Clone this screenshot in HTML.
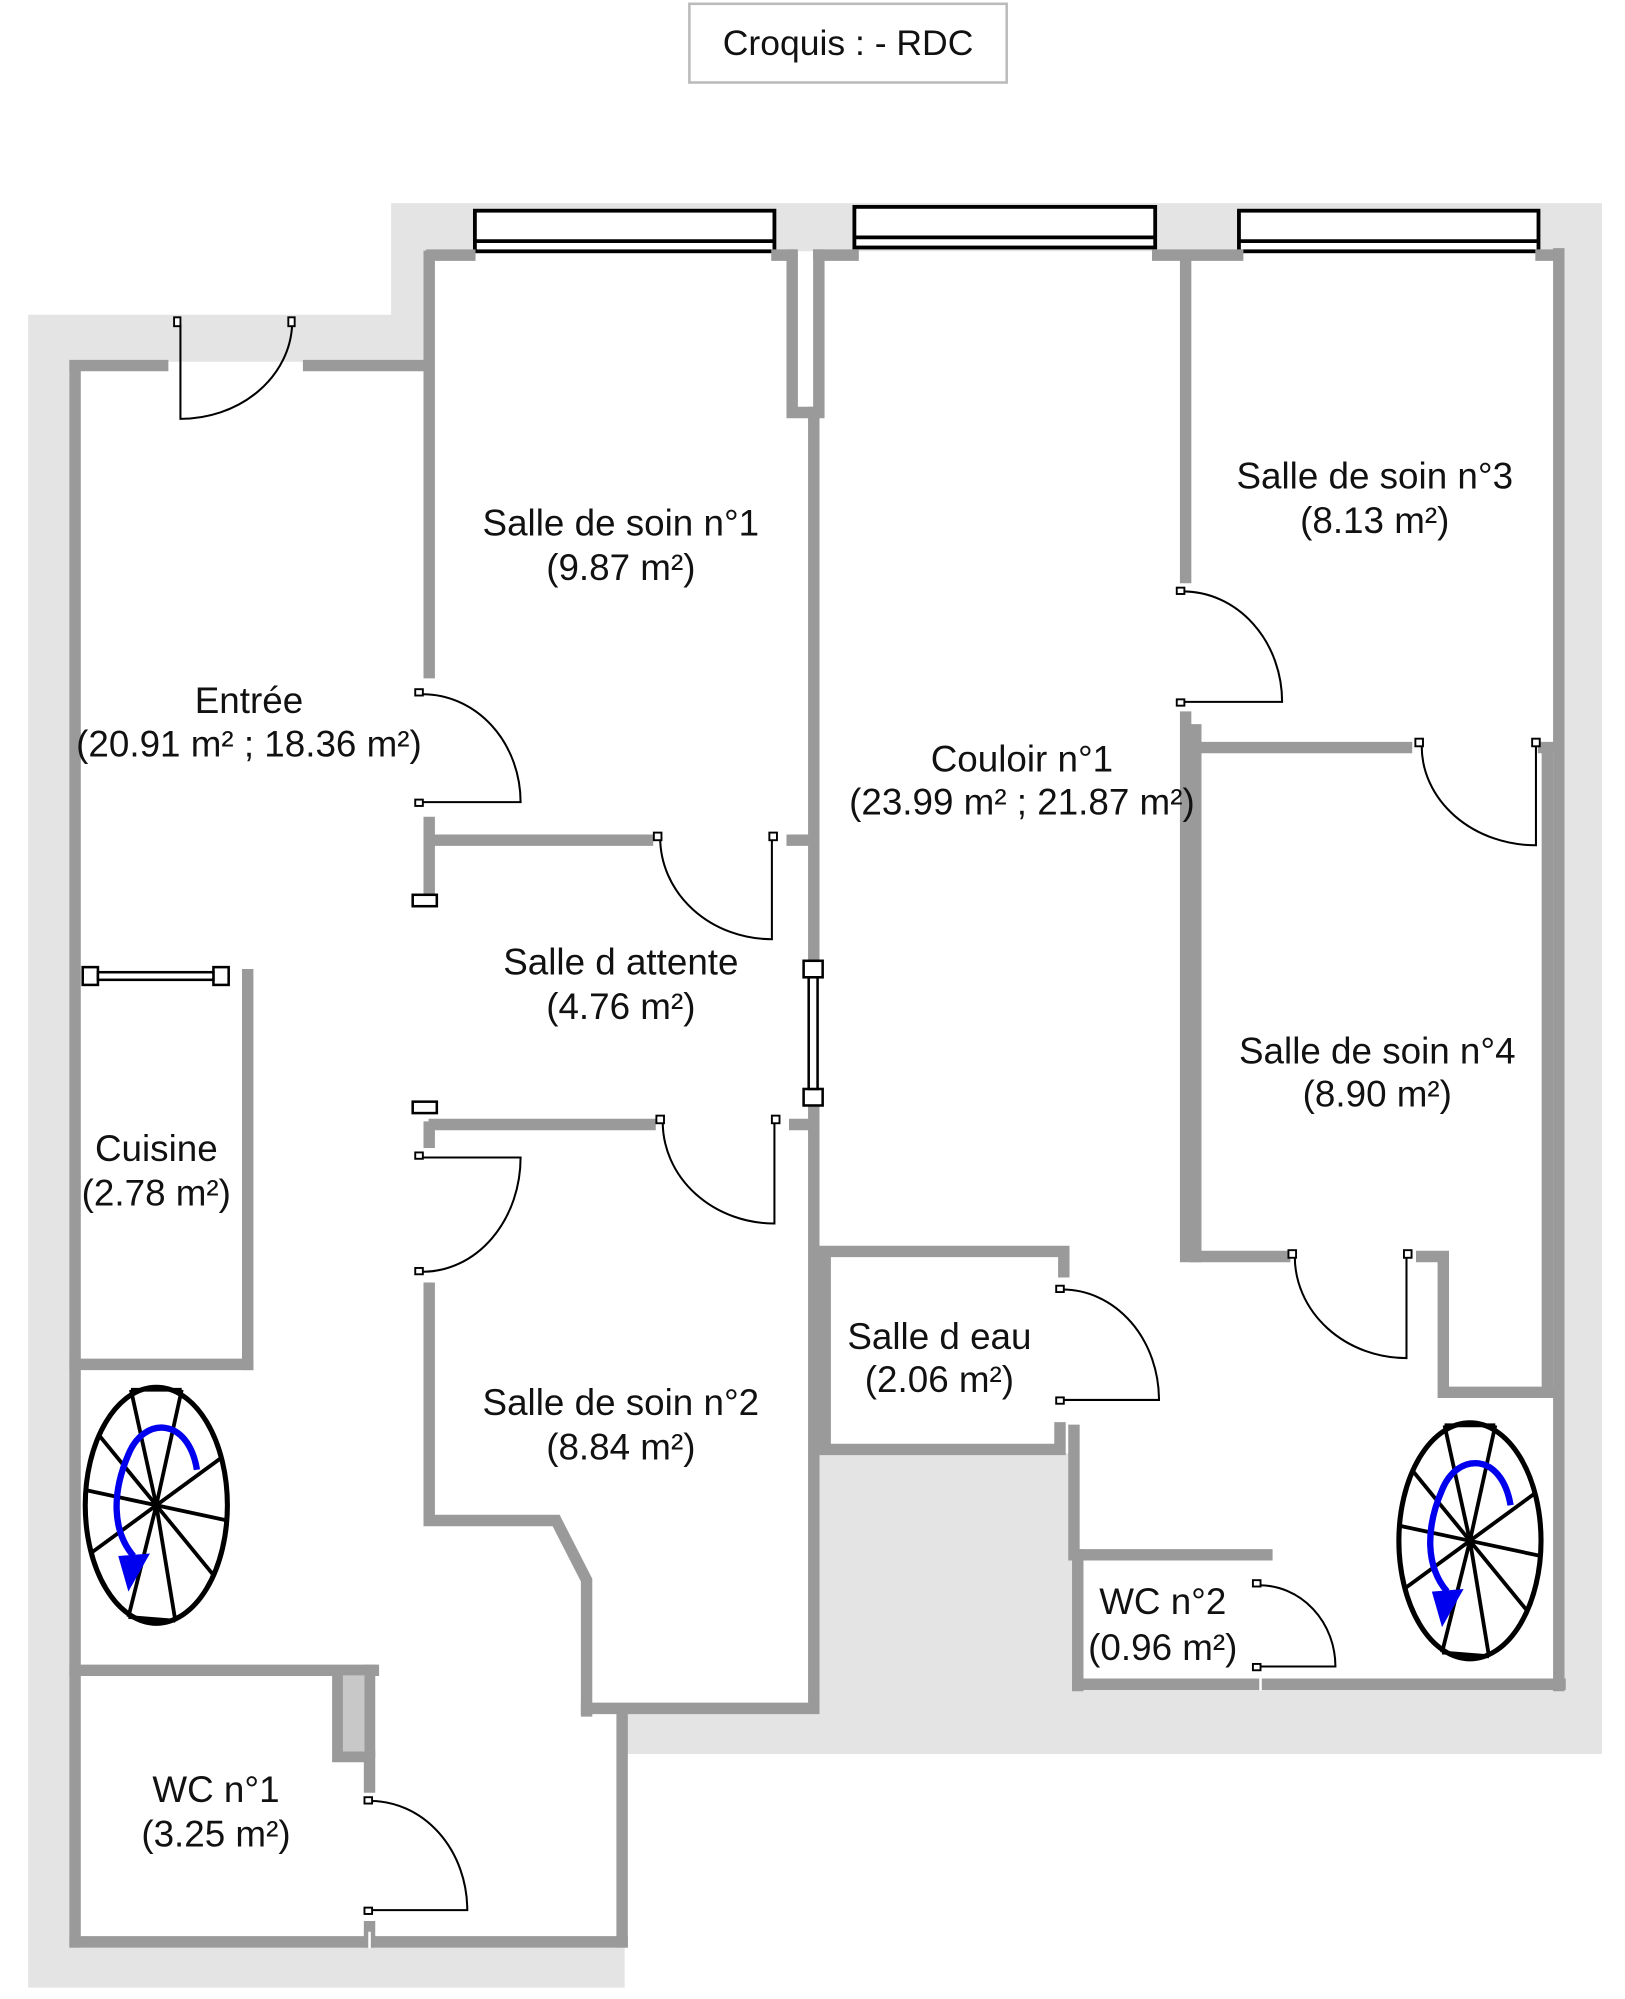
<!DOCTYPE html>
<html><head><meta charset="utf-8"><style>
html,body{margin:0;padding:0;background:#fff;}
svg{display:block;}
text{font-family:"Liberation Sans",Arial,sans-serif;font-size:29px;fill:#111;text-anchor:middle;dominant-baseline:central;}
</style></head><body>
<svg width="1625" height="1999" viewBox="0 0 1280 1575" xmlns="http://www.w3.org/2000/svg">
<defs>
<g id="stair">
<ellipse cx="0" cy="0" rx="56" ry="93" fill="#fff" stroke="#000" stroke-width="4"/>
<g stroke="#000" stroke-width="3">
<line x1="0" y1="0" x2="-20" y2="-91"/><line x1="0" y1="0" x2="20" y2="-91"/>
<line x1="0" y1="0" x2="52" y2="-38"/><line x1="0" y1="0" x2="56" y2="12"/>
<line x1="0" y1="0" x2="45" y2="55"/><line x1="0" y1="0" x2="15" y2="91"/>
<line x1="0" y1="0" x2="-22" y2="88"/><line x1="0" y1="0" x2="-52" y2="38"/>
<line x1="0" y1="0" x2="-56" y2="-12"/><line x1="0" y1="0" x2="-45" y2="-55"/>
<line x1="-20" y1="-91" x2="20" y2="-91"/><line x1="-22" y1="88" x2="15" y2="91"/>
</g>
<path d="M 32 -28 C 25 -70 -10 -70 -22 -40 C -35 -10 -35 20 -18 40" fill="none" stroke="#0000ee" stroke-width="5"/>
<polygon points="-30,40 -5,38 -22,68" fill="#0000ee"/>
</g>
</defs>

<rect x="543" y="3" width="250" height="62" fill="#fff" stroke="#bbb" stroke-width="2"/>
<text x="668" y="34" style="font-size:28px">Croquis :  - RDC</text>

<polygon points="22,248 308,248 308,160 1262,160 1262,1382 492,1382 492,1566 22,1566" fill="#e4e4e4"/>
<polygon points="55,285 335,285 335,198 1230,198 1230,1330 845,1330 845,1145 640,1145 640,1348 490,1348 490,1530 55,1530" fill="#fff"/>

<g fill="#fff" stroke="#000" stroke-width="3">
<rect x="374" y="166" width="236" height="32"/><line x1="374" y1="190" x2="610" y2="190"/>
<rect x="673" y="163" width="237" height="32"/><line x1="673" y1="187" x2="910" y2="187"/>
<rect x="976" y="166" width="236" height="32"/><line x1="976" y1="190" x2="1212" y2="190"/>
</g>

<g stroke="#9a9a9a" stroke-width="9" fill="none" stroke-linecap="square">
<line x1="59" y1="289" x2="59" y2="1530"/>
<line x1="59" y1="288" x2="128" y2="288"/>
<line x1="243" y1="288" x2="335" y2="288"/>
<line x1="338" y1="202" x2="338" y2="530"/>
<line x1="338" y1="648" x2="338" y2="700"/>
<line x1="338" y1="888" x2="338" y2="900"/>
<polyline points="338,1015 338,1198 438,1198 462,1245 462,1348"/>
<line x1="340" y1="201" x2="370" y2="201"/>
<line x1="645" y1="201" x2="672" y2="201"/>
<line x1="612" y1="201" x2="622" y2="201"/>
<line x1="912" y1="201" x2="975" y2="201"/>
<line x1="1214" y1="201" x2="1228" y2="201"/>
<polyline points="624,201 624,325 641,325"/>
<line x1="645" y1="201" x2="645" y2="325"/>
<line x1="641" y1="325" x2="641" y2="752"/>
<line x1="641" y1="873" x2="641" y2="1345"/>
<line x1="462" y1="1346" x2="641" y2="1346"/>
<line x1="342" y1="662" x2="510" y2="662"/>
<line x1="624" y1="662" x2="638" y2="662"/>
<line x1="342" y1="886" x2="512" y2="886"/>
<line x1="626" y1="886" x2="638" y2="886"/>
<polyline points="838,1002 838,986 650,986 650,1142 835,1142 835,1125"/>
<polyline points="846,1127 846,1225 998,1225"/>
<line x1="849" y1="1225" x2="849" y2="1328"/>
<line x1="849" y1="1327" x2="988" y2="1327"/>
<line x1="998" y1="1327" x2="1229" y2="1327"/>
<line x1="934" y1="202" x2="934" y2="455"/>
<line x1="934" y1="565" x2="934" y2="990"/>
<line x1="942" y1="575" x2="942" y2="990"/>
<line x1="942" y1="589" x2="1108" y2="589"/>
<line x1="1216" y1="589" x2="1226" y2="589"/>
<line x1="942" y1="990" x2="1012" y2="990"/>
<polyline points="1120,990 1137,990 1137,1097 1226,1097"/>
<line x1="1228" y1="200" x2="1228" y2="1328"/>
<line x1="1219" y1="590" x2="1219" y2="1095"/>
<line x1="195" y1="768" x2="195" y2="1075"/>
<line x1="59" y1="1075" x2="195" y2="1075"/>
<line x1="59" y1="1316" x2="294" y2="1316"/>
<polyline points="266,1320 266,1384 291,1384 291,1408"/>
<line x1="291" y1="1316" x2="291" y2="1380"/>
<line x1="291" y1="1518" x2="291" y2="1530"/>
<line x1="59" y1="1530" x2="490" y2="1530"/>
<line x1="490" y1="1348" x2="490" y2="1530"/>
</g>
<rect x="270" y="1320" width="17" height="60" fill="#c8c8c8"/>
<line x1="291" y1="1522" x2="291" y2="1535" stroke="#fff" stroke-width="2"/>
<line x1="993" y1="1322" x2="993" y2="1332" stroke="#fff" stroke-width="2"/>

<g fill="#fff" stroke="#000" stroke-width="2">
<rect x="325" y="705" width="19" height="9"/>
<rect x="325" y="868" width="19" height="9"/>
<rect x="633" y="757" width="15" height="13"/><rect x="633" y="858" width="15" height="13"/>
<rect x="637" y="770" width="7" height="88"/>
<rect x="65" y="762" width="12" height="14"/><rect x="168" y="762" width="12" height="14"/>
<rect x="77" y="766" width="91" height="6"/>
</g>

<g fill="none" stroke="#000" stroke-width="1.6">
<path d="M142 256 L142 330 A88 77 0 0 0 230 256"/>
<path d="M333 547 A77 85 0 0 1 410 632 L333 632"/>
<path d="M520 660 A88 80 0 0 0 608 740 L608 660"/>
<path d="M522 884 A88 80 0 0 0 610 964 L610 884"/>
<path d="M333 1002 A77 90 0 0 0 410 912 L333 912"/>
<path d="M932 466 A78 87 0 0 1 1010 553 L932 553"/>
<path d="M1120 588 A90 78 0 0 0 1210 666 L1210 587"/>
<path d="M1020 990 A88 80 0 0 0 1108 1070 L1108 990"/>
<path d="M837 1016 A76 87 0 0 1 913 1103 L837 1103"/>
<path d="M992 1249 A60 64 0 0 1 1052 1313 L992 1313"/>
<path d="M292 1419 A76 86 0 0 1 368 1505 L292 1505"/>
</g>
<g fill="#fff" stroke="#000" stroke-width="1.5">
<rect x="137" y="250" width="5" height="7"/><rect x="227" y="250" width="5" height="7"/>
<rect x="327" y="543" width="6" height="5"/><rect x="327" y="630" width="6" height="5"/>
<rect x="515" y="656" width="6" height="6"/><rect x="606" y="656" width="6" height="6"/>
<rect x="517" y="879" width="6" height="6"/><rect x="608" y="879" width="6" height="6"/>
<rect x="327" y="908" width="6" height="5"/><rect x="327" y="999" width="6" height="5"/>
<rect x="927" y="463" width="6" height="5"/><rect x="927" y="551" width="6" height="5"/>
<rect x="1115" y="582" width="6" height="6"/><rect x="1207" y="582" width="6" height="6"/>
<rect x="1015" y="985" width="6" height="6"/><rect x="1106" y="985" width="6" height="6"/>
<rect x="832" y="1013" width="6" height="5"/><rect x="832" y="1101" width="6" height="5"/>
<rect x="987" y="1245" width="6" height="5"/><rect x="987" y="1311" width="6" height="5"/>
<rect x="287" y="1416" width="6" height="5"/><rect x="287" y="1503" width="6" height="5"/>
</g>

<use href="#stair" x="123" y="1186"/>
<use href="#stair" x="1158" y="1214"/>

<text x="489" y="412">Salle de soin n°1</text><text x="489" y="447">(9.87 m²)</text>
<text x="196" y="552">Entrée</text><text x="196" y="586">(20.91 m² ; 18.36 m²)</text>
<text x="489" y="758">Salle d attente</text><text x="489" y="793">(4.76 m²)</text>
<text x="123" y="905">Cuisine</text><text x="123" y="940">(2.78 m²)</text>
<text x="489" y="1105">Salle de soin n°2</text><text x="489" y="1140">(8.84 m²)</text>
<text x="805" y="598">Couloir n°1</text><text x="805" y="632">(23.99 m² ; 21.87 m²)</text>
<text x="1083" y="375">Salle de soin n°3</text><text x="1083" y="410">(8.13 m²)</text>
<text x="1085" y="828">Salle de soin n°4</text><text x="1085" y="862">(8.90 m²)</text>
<text x="740" y="1053">Salle d eau</text><text x="740" y="1087">(2.06 m²)</text>
<text x="916" y="1262">WC n°2</text><text x="916" y="1298">(0.96 m²)</text>
<text x="170" y="1410">WC n°1</text><text x="170" y="1445">(3.25 m²)</text>
</svg>
</body></html>
